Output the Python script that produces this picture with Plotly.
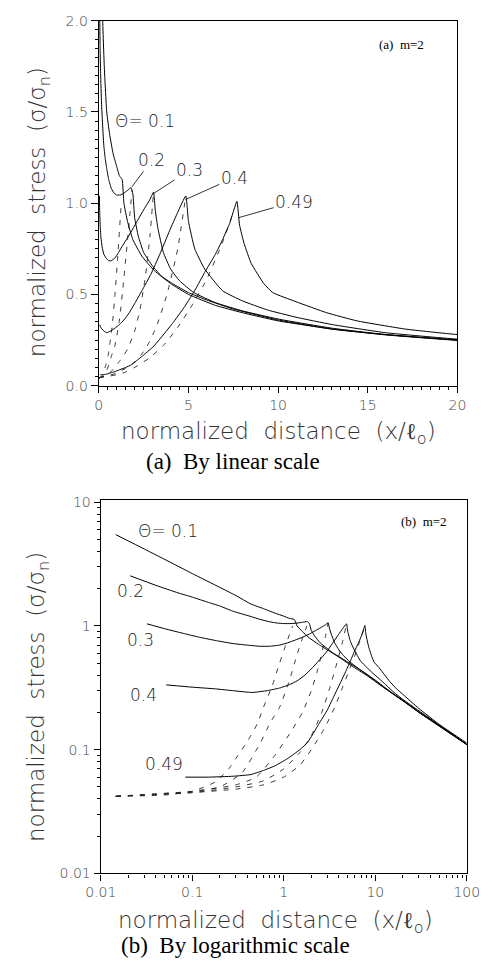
import numpy as np
import plotly.graph_objects as go

# ---------------- data ----------------
theta_labels = ["Θ= 0.1", "0.2", "0.3", "0.4", "0.49"]

x_t01 = [0.0146, 0.03, 0.06, 0.1, 0.2, 0.3, 0.44, 0.6, 0.8, 1.0, 1.15, 1.3, 1.4, 1.6, 1.9, 2.4, 3.1, 4.0, 5.0, 6.5, 8, 10, 13, 16, 20, 30, 50, 100]
y_t01 = [5.47, 4.18, 3.22, 2.65, 2.05, 1.76, 1.50, 1.38, 1.27, 1.2, 1.15, 1.13, 1.0, 0.90, 0.80, 0.71, 0.63, 0.56, 0.50, 0.44, 0.40, 0.355, 0.31, 0.278, 0.248, 0.20, 0.155, 0.11]

x_t02 = [0.021, 0.04, 0.07, 0.1, 0.15, 0.2, 0.275, 0.35, 0.44, 0.55, 0.7, 0.85, 1.0, 1.2, 1.4, 1.6, 1.8, 1.9, 2.0, 2.2, 2.5, 3.0, 3.5, 4.1, 5, 6, 7.5, 10, 13, 16, 20, 30, 50, 100]
y_t02 = [2.54, 2.13, 1.85, 1.71, 1.55, 1.45, 1.32, 1.25, 1.19, 1.13, 1.08, 1.055, 1.045, 1.045, 1.055, 1.07, 1.085, 1.05, 0.92, 0.82, 0.73, 0.655, 0.60, 0.56, 0.51, 0.47, 0.42, 0.36, 0.31, 0.28, 0.25, 0.20, 0.155, 0.11]

x_t03 = [0.032, 0.05, 0.08, 0.12, 0.184, 0.28, 0.4, 0.55, 0.7, 0.9, 1.1, 1.34, 1.6, 1.9, 2.3, 2.6, 2.85, 3.05, 3.15, 3.3, 3.6, 4.0, 4.5, 5.3, 6.5, 8, 10, 13, 16, 20, 30, 50, 100]
y_t03 = [1.04, 0.95, 0.87, 0.81, 0.76, 0.72, 0.70, 0.685, 0.685, 0.70, 0.73, 0.77, 0.81, 0.86, 0.93, 0.98, 1.02, 1.06, 0.96, 0.86, 0.73, 0.64, 0.575, 0.51, 0.455, 0.41, 0.365, 0.315, 0.28, 0.25, 0.203, 0.157, 0.11]

x_t04 = [0.052, 0.1, 0.18, 0.275, 0.45, 0.66, 0.9, 1.15, 1.4, 1.7, 2.0, 2.4, 2.9, 3.4, 3.95, 4.4, 4.85, 5.0, 5.35, 5.9, 6.9, 8.0, 9.4, 11, 13, 16, 20, 30, 50, 100]
y_t04 = [0.334, 0.32, 0.31, 0.30, 0.29, 0.30, 0.315, 0.335, 0.36, 0.40, 0.45, 0.52, 0.61, 0.72, 0.85, 0.95, 1.04, 0.90, 0.75, 0.64, 0.52, 0.465, 0.415, 0.375, 0.335, 0.29, 0.255, 0.206, 0.158, 0.11]

x_t049 = [0.084, 0.15, 0.28, 0.44, 0.6, 0.8, 1.08, 1.5, 1.83, 2.4, 3.0, 3.4, 4.1, 4.8, 5.4, 5.9, 6.5, 6.9, 7.3, 7.7, 7.85, 8.1, 8.5, 9.2, 9.7, 11, 12.7, 14.4, 17.1, 20, 30, 50, 100]
y_t049 = [0.06, 0.06, 0.061, 0.063, 0.068, 0.074, 0.084, 0.10, 0.115, 0.16, 0.21, 0.255, 0.34, 0.435, 0.53, 0.62, 0.72, 0.80, 0.89, 1.01, 0.88, 0.78, 0.67, 0.56, 0.51, 0.46, 0.40, 0.355, 0.31, 0.28, 0.215, 0.16, 0.113]

# dashed curves
x_d1 = [0.0146, 0.05, 0.1, 0.18, 0.25, 0.3, 0.41, 0.52, 0.6, 0.75, 0.9, 1.05, 1.25]
y_d1 = [0.042, 0.043, 0.046, 0.055, 0.07, 0.085, 0.12, 0.165, 0.22, 0.33, 0.5, 0.7, 1.0]
x_d2 = [0.0146, 0.1, 0.2, 0.35, 0.56, 0.71, 0.9, 1.15, 1.4, 1.65, 1.85]
y_d2 = [0.042, 0.046, 0.05, 0.065, 0.115, 0.165, 0.22, 0.36, 0.59, 0.85, 1.07]
x_d3 = [0.0146, 0.1, 0.3, 0.5, 0.8, 1.2, 1.6, 2.0, 2.3, 2.6, 2.85, 3.05]
y_d3 = [0.042, 0.046, 0.052, 0.06, 0.09, 0.14, 0.2, 0.3, 0.42, 0.6, 0.82, 1.06]
x_d4 = [0.0146, 0.1, 0.3, 0.6, 1.0, 1.5, 2.0, 2.6, 3.2, 3.8, 4.4, 4.85]
y_d4 = [0.042, 0.045, 0.05, 0.056, 0.07, 0.095, 0.13, 0.2, 0.32, 0.5, 0.75, 1.04]
x_d5 = [0.0146, 0.1, 0.3, 0.6, 1.0, 1.5, 2.0, 2.8, 3.6, 4.4, 5.2, 6.0, 6.8, 7.5]
y_d5 = [0.042, 0.045, 0.048, 0.052, 0.06, 0.075, 0.1, 0.15, 0.22, 0.32, 0.44, 0.58, 0.76, 0.95]

lin_xticks = [0, 5, 10, 15, 20]
lin_yticks = [0.0, 0.5, 1.0, 1.5, 2.0]
log_xticks = [0.01, 0.1, 1, 10, 100]
log_xtext = ["0.01", "0.1", "1", "10", "100"]
log_yticks = [0.01, 0.1, 1, 10]
log_ytext = ["0.01", "0.1", "1", "10"]

# ---------------- figure ----------------
W, H = 493, 966
fig = go.Figure()

solid = [(x_t01, y_t01), (x_t02, y_t02), (x_t03, y_t03), (x_t04, y_t04), (x_t049, y_t049)]
dashed = [(x_d1, y_d1), (x_d2, y_d2), (x_d3, y_d3), (x_d4, y_d4), (x_d5, y_d5)]

for xa, ya in [("x", "y"), ("x2", "y2")]:
    for xs, ys in dashed:
        fig.add_trace(go.Scatter(x=xs, y=ys, mode="lines", xaxis=xa, yaxis=ya,
                                 line=dict(color="#222", width=0.9, dash="5px,7px", shape="spline", smoothing=0.5),
                                 hoverinfo="skip", showlegend=False))
    for xs, ys in solid:
        fig.add_trace(go.Scatter(x=xs, y=ys, mode="lines", xaxis=xa, yaxis=ya,
                                 line=dict(color="black", width=1, shape="spline", smoothing=0.4),
                                 hoverinfo="skip", showlegend=False))

def px_x(p):
    return p / W

def px_y(p):
    return 1 - p / H

FONT = "DejaVu Sans"
TICKFONT = dict(family=FONT, size=14, color="#444", weight=200)

common = dict(showline=True, linecolor="black", linewidth=1.3, mirror=True, ticks="outside",
              tickcolor="black", showgrid=False, zeroline=False, tickfont=TICKFONT)

fig.update_layout(
    width=W, height=H, margin=dict(l=0, r=0, t=0, b=0),
    paper_bgcolor="white", plot_bgcolor="white", showlegend=False,
    xaxis=dict(domain=[px_x(88), px_x(469)], anchor="y", range=[0, 20], tickvals=lin_xticks,
               ticklen=6, minor=dict(dtick=0.5, ticklen=3, ticks="outside", tickcolor="black"), **common),
    yaxis=dict(domain=[px_y(384), px_y(13)], anchor="x", range=[0, 2], tickvals=lin_yticks,
               tickformat=".1f", ticklen=7, minor=dict(dtick=0.05, ticklen=3, ticks="outside", tickcolor="black"), **common),
    xaxis2=dict(domain=[px_x(90), px_x(479)], anchor="y2", type="log", range=[-2, 2],
                tickvals=log_xticks, ticktext=log_xtext, ticklen=6,
                minor=dict(tickvals=[m * 10.0 ** e for e in range(-2, 2) for m in range(2, 10)],
                           ticklen=3, ticks="outside", tickcolor="black"), **common),
    yaxis2=dict(domain=[px_y(880), px_y(500)], anchor="x2", type="log", range=[-2, 1.02],
                tickvals=log_yticks, ticktext=log_ytext, ticklen=6,
                minor=dict(tickvals=[m * 10.0 ** e for e in range(-2, 1) for m in range(2, 10)],
                           ticklen=3, ticks="outside", tickcolor="black"), **common),
)

ann = []
C = dict(xanchor="center", yanchor="middle")
LBL = dict(family=FONT, size=17, color="#222", weight=200)
# top panel curve labels
ann.append(dict(x=2.6, y=1.45, xref="x", yref="y", text=theta_labels[0], showarrow=False, font=LBL, **C))
lead = [(1.85, 1.09, 20, -27, theta_labels[1]), (3.0, 1.05, 37, -24, theta_labels[2]),
        (4.83, 1.02, 49, -22, theta_labels[3]), (7.77, 0.92, 56, -16, theta_labels[4])]
for x, y, axp, ayp, t in lead:
    ann.append(dict(x=x, y=y, xref="x", yref="y", text=t, showarrow=True, arrowhead=0,
                    arrowwidth=0.8, arrowcolor="black", ax=axp, ay=ayp, font=LBL, standoff=0))
# bottom panel curve labels
bot = [(0.055, 5.8), (0.0213, 1.9), (0.027, 0.774), (0.029, 0.278), (0.049, 0.076)]
for (x, y), t in zip(bot, theta_labels):
    ann.append(dict(x=np.log10(x), y=np.log10(y), xref="x2", yref="y2", text=t, showarrow=False, font=LBL, **C))

SERIF = "Liberation Serif"
ann.append(dict(x=px_x(410), y=px_y(37), xref="paper", yref="paper", text="(a)  m=2", showarrow=False,
                font=dict(family=SERIF, size=13, color="black"), **C))
ann.append(dict(x=px_x(433), y=px_y(522), xref="paper", yref="paper", text="(b)  m=2", showarrow=False,
                font=dict(family=SERIF, size=13, color="black"), **C))

TITLE = dict(family=FONT, size=23, color="#333", weight=200)
xt = "normalized  distance  (x/ℓ<sub>o</sub>)"
yt = "normalized  stress  (σ/σ<sub>n</sub>)"
ann.append(dict(x=px_x(279), y=px_y(432), xref="paper", yref="paper", text=xt, showarrow=False, font=TITLE, **C))
ann.append(dict(x=px_x(276), y=px_y(929), xref="paper", yref="paper", text=xt, showarrow=False, font=TITLE, **C))
ann.append(dict(x=px_x(24), y=px_y(208), xref="paper", yref="paper", text=yt, showarrow=False, textangle=-90, font=TITLE, **C))
ann.append(dict(x=px_x(24), y=px_y(701), xref="paper", yref="paper", text=yt, showarrow=False, textangle=-90, font=TITLE, **C))

CAP = dict(family=SERIF, size=23, color="black")
ann.append(dict(x=px_x(231), y=px_y(461), xref="paper", yref="paper", text="(a)  By linear scale", showarrow=False, font=CAP, **C))
ann.append(dict(x=px_x(233), y=px_y(953), xref="paper", yref="paper", text="(b)  By logarithmic scale", showarrow=False, font=CAP, **C))

fig.update_layout(annotations=ann)
fig.write_html("out.html")
